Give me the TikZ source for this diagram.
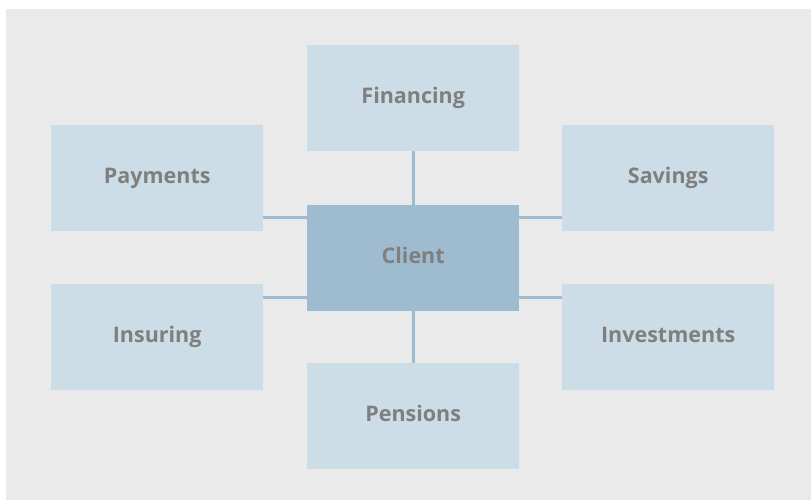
\documentclass[tikz,border=0pt]{standalone}
\usepackage{fontspec}
\setmainfont{Open Sans}
\definecolor{bgc}{HTML}{EAEAEA}
\definecolor{boxc}{HTML}{CDDDE7}
\definecolor{clientc}{HTML}{9EBBD0}
\definecolor{txtc}{HTML}{7F7F7F}
\begin{document}
\begin{tikzpicture}[x=1pt,y=-1pt,
  boxst/.style={fill=boxc, draw=none, minimum width=212pt, minimum height=106pt, inner sep=0pt,
    font=\fontsize{21.5}{25}\selectfont\bfseries, text=txtc, anchor=north west,
    text height=15.5pt, text depth=4.5pt},
  clientst/.style={boxst, fill=clientc},
  link/.style={draw=clientc, line width=3pt}]
\useasboundingbox (0,0) rectangle (811,500);
\fill[bgc] (6,9) rectangle (811,500);
\node[boxst] (fin) at (307,45) {Financing};
\node[boxst] (pay) at (51,125) {Payments};
\node[boxst] (sav) at (562,125) {Savings};
\node[clientst] (cli) at (307,205) {Client};
\node[boxst] (ins) at (51,284) {Insuring};
\node[boxst] (inv) at (562,284) {Investments};
\node[boxst] (pen) at (307,363) {Pensions};
\coordinate (a1) at (263,217);
\coordinate (a2) at (307,217);
\coordinate (b1) at (519,217);
\coordinate (b2) at (562,217);
\coordinate (c1) at (263,297);
\coordinate (c2) at (307,297);
\coordinate (d1) at (519,297);
\coordinate (d2) at (562,297);
\draw[link] (fin.south) -- (cli.north);
\draw[link] (cli.south) -- (pen.north);
\draw[link] (a1) -- (a2);
\draw[link] (b1) -- (b2);
\draw[link] (c1) -- (c2);
\draw[link] (d1) -- (d2);
\end{tikzpicture}
\end{document}
